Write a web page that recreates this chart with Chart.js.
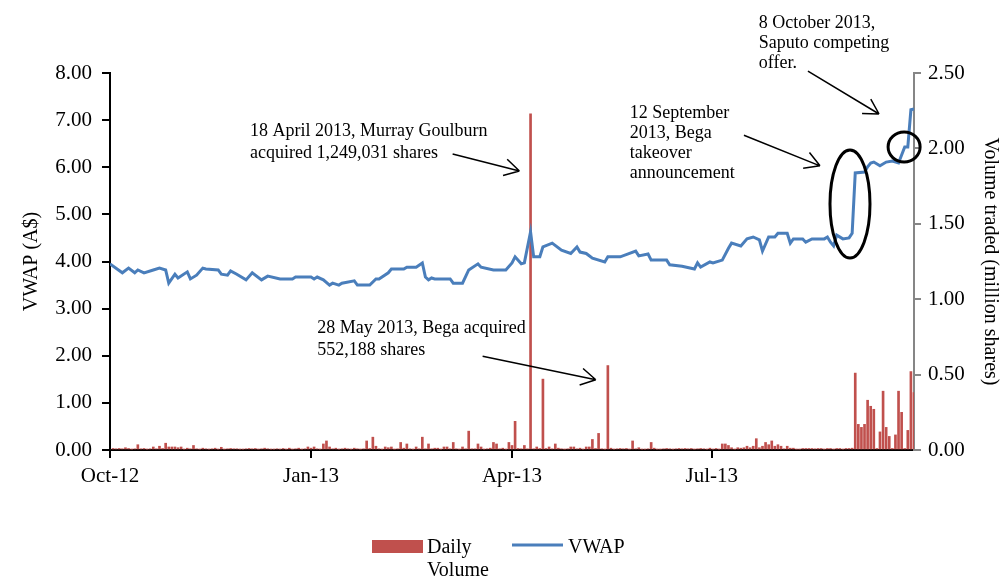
<!DOCTYPE html>
<html>
<head>
<meta charset="utf-8">
<title>VWAP and daily volume, Oct 2012 - Oct 2013</title>
<script src="https://cdn.jsdelivr.net/npm/chart.js@4.4.0/dist/chart.umd.min.js"></script>
<style>
  body { margin: 0; background: #fff; }
</style>
</head>
<body>
<canvas id="chart" width="1002" height="577"></canvas>
<script>
// trading day index along the x axis, quarter labels sit on these days
const tickDays = [0, 65, 130, 194.6];
const tickLabels = ["Oct-12", "Jan-13", "Apr-13", "Jul-13"];
const lastDay = 260;

// daily volume, million shares (one value per trading day, day 0..260)
const dailyVolume = [
  0, 0.01, 0.008, 0.01, 0.008, 0.015, 0.01, 0.005, 0.008, 0.035,
  0.008, 0.01, 0.005, 0.008, 0.02, 0.008, 0.025, 0.01, 0.045, 0.02,
  0.02, 0.02, 0.015, 0.02, 0.005, 0.012, 0.008, 0.03, 0.008, 0.005,
  0.012, 0.008, 0.005, 0.008, 0.012, 0.005, 0.018, 0.005, 0.008, 0.01,
  0.008, 0.008, 0.005, 0.005, 0.008, 0.01, 0.008, 0.01, 0.005, 0.008,
  0.012, 0.008, 0.005, 0.005, 0.008, 0.005, 0.01, 0.005, 0.012, 0.005,
  0.008, 0.012, 0.005, 0.008, 0.02, 0.012, 0.02, 0.008, 0.005, 0.04,
  0.06, 0.02, 0.008, 0.012, 0.005, 0.008, 0.012, 0.008, 0.005, 0.012,
  0.008, 0.005, 0.008, 0.06, 0.01, 0.085, 0.025, 0.008, 0.005, 0.02,
  0.015, 0.02, 0.005, 0.008, 0.05, 0.012, 0.04, 0.008, 0.005, 0.02,
  0.008, 0.085, 0.008, 0.04, 0.008, 0.012, 0.012, 0.005, 0.02, 0.02,
  0.008, 0.05, 0.008, 0.005, 0.02, 0.008, 0.125, 0.008, 0.008, 0.04,
  0.02, 0.005, 0.008, 0.012, 0.05, 0.04, 0.008, 0.012, 0.005, 0.05,
  0.03, 0.19, 0.01, 0.008, 0.03, 0.008, 2.23, 0.008, 0.02, 0.01,
  0.47, 0.01, 0.02, 0.008, 0.04, 0.012, 0.008, 0.005, 0.008, 0.02,
  0.02, 0.008, 0.012, 0.005, 0.02, 0.02, 0.07, 0.01, 0.11, 0.008,
  0.005, 0.56, 0.012, 0.005, 0.008, 0.01, 0.008, 0.01, 0.005, 0.06,
  0.008, 0.015, 0.005, 0.005, 0.008, 0.05, 0.012, 0.005, 0.005, 0.008,
  0.01, 0.008, 0.005, 0.008, 0.01, 0.008, 0.01, 0.008, 0.01, 0.005,
  0.008, 0.01, 0.008, 0.005, 0.012, 0.005, 0.01, 0.005, 0.04, 0.04,
  0.03, 0.015, 0.005, 0.015, 0.012, 0.015, 0.025, 0.015, 0.025, 0.075,
  0.015, 0.025, 0.05, 0.035, 0.06, 0.025, 0.035, 0.025, 0.008, 0.025,
  0.012, 0.012, 0.005, 0.005, 0.01, 0.01, 0.01, 0.01, 0.008, 0.01,
  0.01, 0.005, 0.01, 0.01, 0.005, 0.01, 0.01, 0.005, 0.01, 0.01,
  0.012, 0.51, 0.17, 0.15, 0.17, 0.33, 0.29, 0.27, 0.01, 0.12,
  0.39, 0.15, 0.09, 0.01, 0.10, 0.39, 0.25, 0.01, 0.13, 0.52,
  0.38
];

// VWAP turning points (day, A$)
const vwapDays = [
  0, 4, 6, 8, 9, 11, 14, 16, 18, 19, 21, 22, 25, 26, 28, 30, 31, 35, 36, 38,
  39, 41, 44, 46, 49, 51, 55, 59, 60, 65, 66, 67, 69, 71, 72, 74, 75, 79, 80, 84,
  86, 87, 90, 91, 95, 96, 99, 101, 102, 103, 104, 105, 110, 111, 114, 116, 119, 120, 124, 128,
  130, 131, 133, 134, 136, 137, 139, 140, 143, 146, 149, 151, 152, 154, 156, 160, 161, 165, 170, 171,
  174, 175, 180, 181, 185, 189, 190, 191, 194, 195, 198, 200, 201, 204, 206, 208, 210, 211, 213, 215,
  216, 219, 220, 221, 224, 225, 227, 231, 232, 233, 234, 235, 237, 239, 240, 241, 244, 245, 246, 247,
  249, 251, 253, 255, 257, 258, 259, 260
];
const vwapPrices = [
  3.95, 3.76, 3.86, 3.76, 3.82, 3.76, 3.82, 3.86, 3.82, 3.54, 3.73, 3.65, 3.78, 3.63, 3.71, 3.86, 3.84, 3.82, 3.73, 3.71,
  3.80, 3.73, 3.61, 3.76, 3.61, 3.69, 3.63, 3.63, 3.67, 3.67, 3.63, 3.67, 3.61, 3.50, 3.54, 3.50, 3.54, 3.59, 3.50, 3.50,
  3.63, 3.63, 3.76, 3.84, 3.84, 3.88, 3.88, 3.97, 3.67, 3.61, 3.65, 3.63, 3.63, 3.54, 3.54, 3.82, 3.95, 3.88, 3.82, 3.82,
  3.97, 4.10, 3.95, 3.97, 4.63, 4.10, 4.10, 4.31, 4.39, 4.24, 4.17, 4.31, 4.20, 4.17, 4.07, 3.99, 4.10, 4.10, 4.22, 4.12,
  4.16, 4.03, 4.03, 3.93, 3.90, 3.84, 3.97, 3.88, 3.99, 3.97, 4.03, 4.28, 4.39, 4.33, 4.48, 4.52, 4.46, 4.22, 4.52, 4.52,
  4.60, 4.60, 4.39, 4.48, 4.48, 4.41, 4.48, 4.48, 4.52, 4.41, 4.33, 4.56, 4.48, 4.50, 4.60, 5.88, 5.90, 6.01, 6.09, 6.11,
  6.03, 6.11, 6.13, 6.09, 6.43, 6.43, 7.22, 7.24
];

// call-outs, anchored in (day, A$) units
const notes = [
  { day: 45.3, price: 6.77, gap: 22, lines: ["18 April 2013, Murray Goulburn", "acquired 1,249,031 shares"] },
  { day: 67.0, price: 2.59, gap: 22, lines: ["28 May 2013, Bega acquired", "552,188 shares"] },
  { day: 168.1, price: 7.15, gap: 20, lines: ["12 September", "2013, Bega", "takeover", "announcement"] },
  { day: 209.8, price: 9.06, gap: 20, lines: ["8 October 2013,", "Saputo competing", "offer."] }
];
const arrows = [
  { from: [110.8, 6.28], to: [132.4, 5.92] },
  { from: [120.5, 1.99], to: [157.1, 1.49] },
  { from: [205.0, 6.68], to: [229.6, 6.03] },
  { from: [225.7, 8.04], to: [248.7, 7.13] }
];
const rings = [
  { day: 239.3, price: 5.22, rx: 20, ry: 54 },
  { day: 256.8, price: 6.43, rx: 16, ry: 15 }
];

const serif = "'Liberation Serif', 'Times New Roman', serif";
Chart.defaults.font.family = serif;
Chart.defaults.color = "#000";

const annotate = {
  id: "annotate",
  afterDatasetsDraw(chart) {
    const { ctx, scales: { x, y } } = chart;
    ctx.save();
    ctx.fillStyle = "#000";
    ctx.strokeStyle = "#000";
    ctx.font = "18px " + serif;
    ctx.textBaseline = "middle";
    notes.forEach(n => {
      const px = x.getPixelForValue(n.day);
      const py = y.getPixelForValue(n.price);
      n.lines.forEach((t, i) => ctx.fillText(t, px, py + i * n.gap));
    });

    ctx.lineWidth = 1.5;
    arrows.forEach(a => {
      const x0 = x.getPixelForValue(a.from[0]), y0 = y.getPixelForValue(a.from[1]);
      const x1 = x.getPixelForValue(a.to[0]), y1 = y.getPixelForValue(a.to[1]);
      const ang = Math.atan2(y1 - y0, x1 - x0);
      ctx.beginPath();
      ctx.moveTo(x0, y0);
      ctx.lineTo(x1, y1);
      [-0.52, 0.52].forEach(d => {
        ctx.moveTo(x1, y1);
        ctx.lineTo(x1 - 17 * Math.cos(ang + d), y1 - 17 * Math.sin(ang + d));
      });
      ctx.stroke();
    });

    ctx.lineWidth = 3;
    rings.forEach(r => {
      ctx.beginPath();
      ctx.ellipse(x.getPixelForValue(r.day), y.getPixelForValue(r.price), r.rx, r.ry, 0, 0, 2 * Math.PI);
      ctx.stroke();
    });
    ctx.restore();
  },
  afterDraw(chart) {
    // legend at the foot of the chart
    const { ctx } = chart;
    const [vol, vwap] = chart.data.datasets;
    ctx.save();
    ctx.font = "20px " + serif;
    ctx.fillStyle = vol.backgroundColor;
    ctx.fillRect(372, 540, 51, 13);
    ctx.strokeStyle = vwap.borderColor;
    ctx.lineWidth = 3;
    ctx.beginPath();
    ctx.moveTo(512, 545);
    ctx.lineTo(563, 545);
    ctx.stroke();
    ctx.fillStyle = "#000";
    ctx.textBaseline = "alphabetic";
    ctx.fillText("Daily", 427, 553);
    ctx.fillText("Volume", 427, 576);
    ctx.fillText(vwap.label, 568, 553);
    ctx.restore();
  }
};

new Chart(document.getElementById("chart"), {
  type: "bar",
  data: {
    datasets: [
      {
        type: "bar",
        label: "Daily Volume",
        data: dailyVolume.map((v, i) => ({ x: i, y: v })),
        yAxisID: "y1",
        backgroundColor: "#C0504D",
        barThickness: 2,
        order: 1
      },
      {
        type: "line",
        label: "VWAP",
        data: vwapDays.map((d, i) => ({ x: d, y: vwapPrices[i] })),
        yAxisID: "y",
        borderColor: "#4A7EBB",
        borderWidth: 3,
        pointRadius: 0,
        tension: 0,
        order: 0
      }
    ]
  },
  options: {
    responsive: false,
    animation: false,
    devicePixelRatio: 1,
    layout: { padding: { top: 73 } },
    plugins: { legend: { display: false }, tooltip: { enabled: false } },
    scales: {
      x: {
        type: "linear",
        min: 0,
        max: lastDay,
        offset: false,
        afterBuildTicks: s => { s.ticks = tickDays.map(v => ({ value: v })); },
        afterFit: s => { s.height = 127; },
        border: { color: "#000", width: 2 },
        grid: { drawOnChartArea: false, offset: false, tickLength: 8, color: "#000", lineWidth: 2 },
        ticks: {
          autoSkip: false,
          maxRotation: 0,
          padding: 6,
          font: { size: 21 },
          callback: (v, i) => tickLabels[i]
        }
      },
      y: {
        position: "left",
        min: 0,
        max: 8,
        afterFit: s => { s.width = 110; },
        border: { color: "#000", width: 2 },
        grid: { drawOnChartArea: false, tickLength: 8, color: "#000", lineWidth: 2 },
        ticks: { stepSize: 1, padding: 10, font: { size: 21 }, callback: v => v.toFixed(2) },
        title: { display: true, text: "VWAP (A$)", font: { size: 20 }, padding: { top: 20 } }
      },
      y1: {
        position: "right",
        min: 0,
        max: 2.5,
        afterFit: s => { s.width = 88; },
        border: { color: "#868686", width: 2 },
        grid: { drawOnChartArea: false, tickLength: 7, color: "#868686", lineWidth: 2 },
        ticks: { stepSize: 0.5, padding: 7, font: { size: 21 }, callback: v => v.toFixed(2) },
        title: { display: true, text: "Volume traded (million shares)", font: { size: 20 }, padding: { top: 0 } }
      }
    }
  },
  plugins: [annotate]
});
</script>
</body>
</html>
